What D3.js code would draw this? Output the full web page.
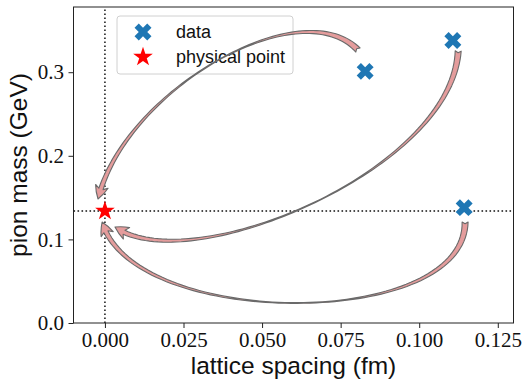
<!DOCTYPE html>
<html>
<head>
<meta charset="utf-8">
<script src="https://cdn.jsdelivr.net/npm/d3@7"></script>
<style>
body { margin: 0; background: #fff; }
</style>
</head>
<body>
<svg id="chart"></svg>
<script>
var WIDTH = 523;
var HEIGHT = 380;

// lattice data
var spacing = [0.0828, 0.1107, 0.1143];
var pionMass = [0.301, 0.338, 0.138];

// physical point
var physSpacing = [0];
var physMass = [0.134];

// curved arrows towards the physical point: tail, two bend handles, tip (data units)
var arrowFrom = [[0.0805, 0.3266], [0.1124, 0.3254], [0.1146, 0.1208]];
var arrowBendA = [[0.0621, 0.3983], [0.1104, 0.1830], [0.1146, -0.0084]];
var arrowBendB = [[0.0064, 0.2787], [0.0271, 0.0514], [0.0093, -0.0084]];
var arrowTo = [[-0.0022, 0.1483], [0.0032, 0.1148], [-0.0009, 0.1208]];

var xTicks = [0, 0.025, 0.05, 0.075, 0.1, 0.125];
var yTicks = [0, 0.1, 0.2, 0.3];
var legendLabels = ["data", "physical point"];

var x = d3.scaleLinear().domain([-0.01, 0.13]).range([73.5, 513.5]);
var y = d3.scaleLinear().domain([0, 0.378]).range([323, 7]);

var svg = d3.select("#chart")
    .attr("width", WIDTH)
    .attr("height", HEIGHT);

// dotted guide lines through the physical point
svg.append("line")
    .attr("x1", x(physSpacing[0])).attr("x2", x(physSpacing[0]))
    .attr("y1", y.range()[0]).attr("y2", y.range()[1])
    .attr("stroke", "#111").attr("stroke-width", 1.5)
    .attr("stroke-dasharray", "1.6,2.4");
svg.append("line")
    .attr("x1", x.range()[0]).attr("x2", x.range()[1])
    .attr("y1", y(physMass[0])).attr("y2", y(physMass[0]))
    .attr("stroke", "#111").attr("stroke-width", 1.5)
    .attr("stroke-dasharray", "1.6,2.4");

// legend box (under the arrows)
var legend = svg.append("g").attr("transform", "translate(117,16)");
legend.append("rect")
    .attr("width", 176).attr("height", 58)
    .attr("rx", 3)
    .attr("fill", "#fff").attr("fill-opacity", 0.8)
    .attr("stroke", "#d0d0d0");

function arrowPath(p) {
    var headLen = 13, headW = 13, w0 = 6, wMin = 0.7, w1 = 4.5;
    function pt(t) {
        var a = (1 - t) * (1 - t) * (1 - t), b = 3 * (1 - t) * (1 - t) * t, c = 3 * (1 - t) * t * t, d = t * t * t;
        return [a * p[0][0] + b * p[1][0] + c * p[2][0] + d * p[3][0],
                a * p[0][1] + b * p[1][1] + c * p[2][1] + d * p[3][1]];
    }
    function nrm(t) {
        var q1 = pt(Math.max(0, t - 0.002)), q2 = pt(Math.min(1, t + 0.002));
        var dx = q2[0] - q1[0], dy = q2[1] - q1[1], l = Math.sqrt(dx * dx + dy * dy);
        return [-dy / l, dx / l];
    }
    var tip = p[3];
    function dist(q) { return Math.sqrt((q[0] - tip[0]) * (q[0] - tip[0]) + (q[1] - tip[1]) * (q[1] - tip[1])); }
    var N = 1000, tTail = null, tBase = null;
    for (var i = N; i >= 0; i--) {
        var d = dist(pt(i / N));
        if (tTail === null && d >= 0.8 * headLen) tTail = i / N;
        if (d >= headLen) { tBase = i / N; break; }
    }
    var left = [], right = [];
    for (var j = 0; j <= 80; j++) {
        var s = j / 80, t = tTail * s;
        var w = s < 0.5 ? wMin + (w0 - wMin) * Math.pow(1 - 2 * s, 1.5) : wMin + (w1 - wMin) * Math.pow(2 * s - 1, 1.5);
        var q = pt(t), n = nrm(t);
        left.push([q[0] + n[0] * w / 2, q[1] + n[1] * w / 2]);
        right.push([q[0] - n[0] * w / 2, q[1] - n[1] * w / 2]);
    }
    var base = pt(tBase);
    var dx = tip[0] - base[0], dy = tip[1] - base[1], l = Math.sqrt(dx * dx + dy * dy);
    dx /= l; dy /= l;
    var nx = -dy, ny = dx;
    var hl = [base[0] + nx * headW / 2, base[1] + ny * headW / 2];
    var hr = [base[0] - nx * headW / 2, base[1] - ny * headW / 2];
    var mid = [base[0] + dx * headLen / 2, base[1] + dy * headLen / 2];
    var cl = [mid[0] + nx * 0.35 * headW, mid[1] + ny * 0.35 * headW];
    var cr = [mid[0] - nx * 0.35 * headW, mid[1] - ny * 0.35 * headW];
    var n0 = nrm(0);
    var notch = [p[0][0] + n0[1] * 1.8, p[0][1] - n0[0] * 1.8];

    var path = d3.path();
    path.moveTo(right[0][0], right[0][1]);
    right.forEach(function(r) { path.lineTo(r[0], r[1]); });
    path.lineTo(hr[0], hr[1]);
    path.quadraticCurveTo(cr[0], cr[1], tip[0], tip[1]);
    path.quadraticCurveTo(cl[0], cl[1], hl[0], hl[1]);
    for (var k = left.length - 1; k >= 0; k--) path.lineTo(left[k][0], left[k][1]);
    path.lineTo(notch[0], notch[1]);
    path.closePath();
    return path.toString();
}

var arrows = arrowFrom.map(function(f, i) {
    return [[x(f[0]), y(f[1])],
            [x(arrowBendA[i][0]), y(arrowBendA[i][1])],
            [x(arrowBendB[i][0]), y(arrowBendB[i][1])],
            [x(arrowTo[i][0]), y(arrowTo[i][1])]];
});

svg.selectAll(".arrow")
    .data(arrows)
    .enter().append("path")
    .attr("class", "arrow")
    .attr("d", arrowPath)
    .attr("fill", "#e49c9c")
    .attr("stroke", "#6a6a6a")
    .attr("stroke-width", 1.1)
    .attr("stroke-linejoin", "round");

// frame
svg.append("rect")
    .attr("x", x.range()[0]).attr("y", y.range()[1])
    .attr("width", x.range()[1] - x.range()[0])
    .attr("height", y.range()[0] - y.range()[1])
    .attr("fill", "none").attr("stroke", "#222").attr("stroke-width", 1);

var xAxis = svg.append("g")
    .attr("transform", "translate(0," + y.range()[0] + ")")
    .call(d3.axisBottom(x).tickValues(xTicks).tickFormat(d3.format(".3f")).tickSize(5).tickSizeOuter(0).tickPadding(4));
var yAxis = svg.append("g")
    .attr("transform", "translate(" + x.range()[0] + ",0)")
    .call(d3.axisLeft(y).tickValues(yTicks).tickFormat(d3.format(".1f")).tickSize(5).tickSizeOuter(0).tickPadding(4.5));
[xAxis, yAxis].forEach(function(a) {
    a.select(".domain").remove();
    a.selectAll(".tick line").attr("stroke", "#222");
    a.selectAll(".tick text")
        .attr("fill", "#111")
        .style("font-family", "'Liberation Serif', serif")
        .style("font-size", "21px");
});

// markers
var xMark = d3.symbol().type(d3.symbolCross).size(180);
var starMark = d3.symbol().type(d3.symbolStar).size(120);

svg.selectAll(".pt")
    .data(spacing)
    .enter().append("path")
    .attr("class", "pt")
    .attr("d", xMark)
    .attr("transform", function(d, i) { return "translate(" + x(d) + "," + y(pionMass[i]) + ") rotate(45)"; })
    .attr("fill", "#1f77b4");

svg.selectAll(".phys")
    .data(physSpacing)
    .enter().append("path")
    .attr("class", "phys")
    .attr("d", starMark)
    .attr("transform", function(d, i) { return "translate(" + x(d) + "," + y(physMass[i]) + ")"; })
    .attr("fill", "red");

// legend entries
legend.append("path").attr("d", xMark)
    .attr("transform", "translate(26,16) rotate(45)")
    .attr("fill", "#1f77b4");
legend.append("path").attr("d", starMark)
    .attr("transform", "translate(26,41)")
    .attr("fill", "red");
legend.selectAll(".lbl")
    .data(legendLabels)
    .enter().append("text")
    .attr("class", "lbl")
    .attr("x", 59)
    .attr("y", function(d, i) { return 16 + i * 25; })
    .attr("dy", "0.35em")
    .style("font-family", "'Liberation Sans', Arial, sans-serif")
    .style("font-size", "18px")
    .attr("fill", "#111")
    .text(function(d) { return d; });

// axis titles
svg.append("text")
    .attr("x", (x.range()[0] + x.range()[1]) / 2)
    .attr("y", 374)
    .attr("text-anchor", "middle")
    .style("font-family", "'Liberation Sans', Arial, sans-serif")
    .style("font-size", "24.5px")
    .attr("fill", "#111")
    .text("lattice spacing (fm)");

svg.append("text")
    .attr("transform", "translate(27," + (y.range()[0] + y.range()[1]) / 2 + ") rotate(-90)")
    .attr("text-anchor", "middle")
    .style("font-family", "'Liberation Sans', Arial, sans-serif")
    .style("font-size", "24.5px")
    .attr("fill", "#111")
    .text("pion mass (GeV)");
</script>
</body>
</html>
